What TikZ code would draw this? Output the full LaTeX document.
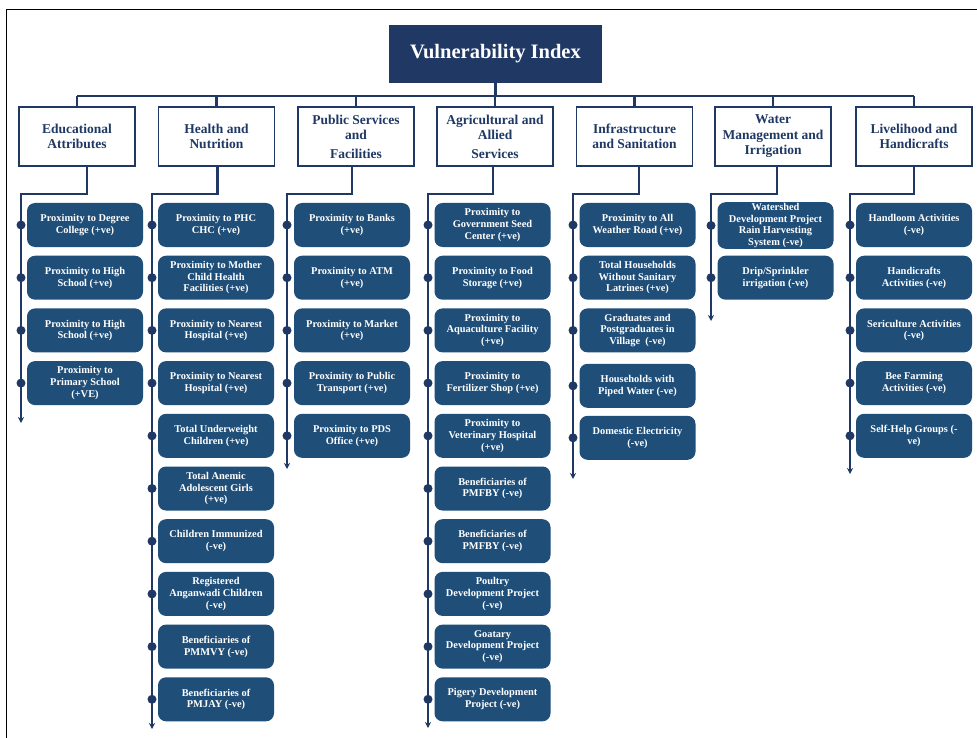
\documentclass[tikz,border=0pt]{standalone}
\usepackage{fontspec}
\setmainfont{Liberation Serif}
\usetikzlibrary{arrows.meta,calc}
\definecolor{navy}{HTML}{1F3864}
\definecolor{itemblue}{HTML}{1F4E79}
\newcommand\myitemfont{\bfseries\fontsize{10.4}{11.7}\selectfont}
\newcommand\mycatfont{\bfseries\fontsize{13.5}{15.5}\selectfont}
\newcommand\mytitlefont{\bfseries\fontsize{20.5}{24}\selectfont}
\tikzset{
  titlebox/.style={fill=navy, minimum width=213pt, minimum height=58pt, text=white, font=\mytitlefont, inner sep=0pt},
  catbox/.style={draw=navy, line width=1.8pt, fill=white, minimum width=116pt, minimum height=59pt, align=center, font=\mycatfont, text=navy, inner sep=1pt},
  itembox/.style={fill=itemblue, rounded corners=8pt, minimum width=116pt, minimum height=44pt, align=center, text=white, font=\myitemfont, inner sep=1pt},
  conn/.style={draw=navy, line width=2.2pt},
  spinearrow/.style={conn, -{Stealth[length=6pt,width=6pt]}},
  dotmark/.style={circle, fill=navy, inner sep=0pt, minimum size=9pt}
}
\begin{document}
\begin{tikzpicture}[x=1pt,y=-1pt]
\useasboundingbox (0,0) rectangle (977,738);
\fill[white] (0,0) rectangle (977,738);
\draw[black, line width=1pt] (6,738) -- (6,10) -- (977,10);

% title and categories
\node[titlebox] (title) at (495.5,54) {Vulnerability Index};
\coordinate (bus) at (495.5,96);
\node[catbox] (edu) at (77,136.5) {Educational\\Attributes};
\node[catbox] (hea) at (216.5,136.5) {Health and\\Nutrition};
\node[catbox] (pub) at (356,136.5) {Public Services\\and\\[3pt]Facilities};
\node[catbox] (agr) at (495,136.5) {Agricultural and\\Allied\\[3pt]Services};
\node[catbox] (inf) at (634.5,136.5) {Infrastructure\\and Sanitation};
\node[catbox] (wat) at (773,136.5) {Water\\Management and\\Irrigation};
\node[catbox] (liv) at (914,136.5) {Livelihood and\\Handicrafts};

\draw[conn] (title.south) -- (title.south |- bus);
\draw[conn] (edu.north |- bus) -- (liv.north |- bus);
\foreach \c in {edu,hea,pub,agr,inf,wat,liv}
  \draw[conn] (\c.north) -- (\c.north |- bus);

% knees and spine ends
\coordinate (eduk) at (21,194);   \coordinate (edue) at (21,423);
\coordinate (heak) at (152,194);  \coordinate (heae) at (152,729);
\coordinate (pubk) at (287,194);  \coordinate (pube) at (287,469);
\coordinate (agrk) at (428,194);  \coordinate (agre) at (428,728);
\coordinate (infk) at (573,194);  \coordinate (infe) at (573,479);
\coordinate (watk) at (711,194);  \coordinate (wate) at (711,321);
\coordinate (livk) at (850,194);  \coordinate (live) at (850,474);

\draw[spinearrow] ([xshift=10pt]edu.south) |- (eduk) -- (edue);
\draw[spinearrow] ([xshift=1pt]hea.south) |- (heak) -- (heae);
\draw[spinearrow] ([xshift=-4pt]pub.south) |- (pubk) -- (pube);
\draw[spinearrow] ([xshift=-2pt]agr.south) |- (agrk) -- (agre);
\draw[spinearrow] ([xshift=4.5pt]inf.south) |- (infk) -- (infe);
\draw[spinearrow] ([xshift=4pt]wat.south) |- (watk) -- (wate);
\draw[spinearrow] (liv.south) |- (livk) -- (live);

% Educational
\node[itembox] (e1) at (85,225) {Proximity to Degree\\College (+ve)};
\node[itembox] (e2) at (85,277.7) {Proximity to High\\School (+ve)};
\node[itembox] (e3) at (85,330.4) {Proximity to High\\School (+ve)};
\node[itembox] (e4) at (85,383.1) {Proximity to\\Primary School\\(+VE)};

% Health
\node[itembox] (h1) at (216,225) {Proximity to PHC\\CHC (+ve)};
\node[itembox] (h2) at (216,277.7) {Proximity to Mother\\Child Health\\Facilities (+ve)};
\node[itembox] (h3) at (216,330.4) {Proximity to Nearest\\Hospital (+ve)};
\node[itembox] (h4) at (216,383.1) {Proximity to Nearest\\Hospital (+ve)};
\node[itembox] (h5) at (216,435.8) {Total Underweight\\Children (+ve)};
\node[itembox] (h6) at (216,488.5) {Total Anemic\\Adolescent Girls\\(+ve)};
\node[itembox] (h7) at (216,541.2) {Children Immunized\\(-ve)};
\node[itembox] (h8) at (216,593.9) {Registered\\Anganwadi Children\\(-ve)};
\node[itembox] (h9) at (216,646.6) {Beneficiaries of\\PMMVY (-ve)};
\node[itembox] (h10) at (216,699.3) {Beneficiaries of\\PMJAY (-ve)};

% Public services
\node[itembox] (p1) at (352,225) {Proximity to Banks\\(+ve)};
\node[itembox] (p2) at (352,277.7) {Proximity to ATM\\(+ve)};
\node[itembox] (p3) at (352,330.4) {Proximity to Market\\(+ve)};
\node[itembox] (p4) at (352,383.1) {Proximity to Public\\Transport (+ve)};
\node[itembox] (p5) at (352,435.8) {Proximity to PDS\\Office (+ve)};

% Agricultural
\node[itembox] (a1) at (492.5,225) {Proximity to\\Government Seed\\Center (+ve)};
\node[itembox] (a2) at (492.5,277.7) {Proximity to Food\\Storage (+ve)};
\node[itembox] (a3) at (492.5,330.4) {Proximity to\\Aquaculture Facility\\(+ve)};
\node[itembox] (a4) at (492.5,383.1) {Proximity to\\Fertilizer Shop (+ve)};
\node[itembox] (a5) at (492.5,435.8) {Proximity to\\Veterinary Hospital\\(+ve)};
\node[itembox] (a6) at (492.5,488.5) {Beneficiaries of\\PMFBY (-ve)};
\node[itembox] (a7) at (492.5,541.2) {Beneficiaries of\\PMFBY (-ve)};
\node[itembox] (a8) at (492.5,593.9) {Poultry\\Development Project\\(-ve)};
\node[itembox] (a9) at (492.5,646.6) {Goatary\\Development Project\\(-ve)};
\node[itembox] (a10) at (492.5,699.3) {Pigery Development\\Project (-ve)};

% Infrastructure
\node[itembox] (i1) at (637.5,225) {Proximity to All\\Weather Road (+ve)};
\node[itembox] (i2) at (637.5,277.7) {Total Households\\Without Sanitary\\Latrines (+ve)};
\node[itembox] (i3) at (637.5,330.4) {Graduates and\\Postgraduates in\\Village~ (-ve)};
\node[itembox] (i4) at (637.5,385.8) {Households with\\Piped Water (-ve)};
\node[itembox] (i5) at (637.5,437.8) {Domestic Electricity\\(-ve)};

% Water
\node[itembox] (w1) at (775.5,225.5) {Watershed\\Development Project\\Rain Harvesting\\System (-ve)};
\node[itembox] (w2) at (775.5,277.7) {Drip/Sprinkler\\irrigation (-ve)};

% Livelihood
\node[itembox] (l1) at (914,225) {Handloom Activities\\(-ve)};
\node[itembox] (l2) at (914,277.7) {Handicrafts\\Activities (-ve)};
\node[itembox] (l3) at (914,330.4) {Sericulture Activities\\(-ve)};
\node[itembox] (l4) at (914,383.1) {Bee Farming\\Activities (-ve)};
\node[itembox] (l5) at (914,435.8) {Self-Help Groups (-\\ve)};

% dots on spines
\foreach \n in {e1,e2,e3,e4} \node[dotmark] at (\n.west -| eduk) {};
\foreach \n in {h1,h2,h3,h4,h5,h6,h7,h8,h9,h10} \node[dotmark] at (\n.west -| heak) {};
\foreach \n in {p1,p2,p3,p4,p5} \node[dotmark] at (\n.west -| pubk) {};
\foreach \n in {a1,a2,a3,a4,a5,a6,a7,a8,a9,a10} \node[dotmark] at (\n.west -| agrk) {};
\foreach \n in {i1,i2,i3,i4,i5} \node[dotmark] at (\n.west -| infk) {};
\foreach \n in {w1,w2} \node[dotmark] at (\n.west -| watk) {};
\foreach \n in {l1,l2,l3,l4,l5} \node[dotmark] at (\n.west -| livk) {};
\end{tikzpicture}
\end{document}
